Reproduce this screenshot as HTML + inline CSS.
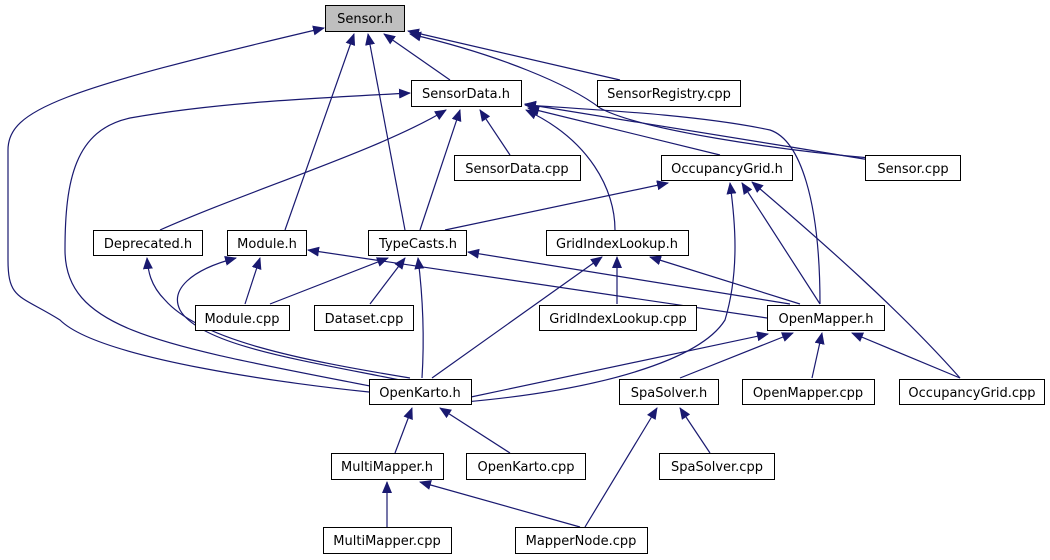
<!DOCTYPE html>
<html><head><meta charset="utf-8"><style>
html,body{margin:0;padding:0;background:#fff;}
svg{display:block;}
text{font-family:"DejaVu Sans","Liberation Sans",sans-serif;font-size:13px;fill:#000;}
.e{fill:none;stroke:#191970;stroke-width:1.2;marker-end:url(#a);}
.n{fill:#fff;stroke:#000;stroke-width:1;}
</style></head><body>
<svg width="1050" height="560" viewBox="0 0 1050 560">
<defs><marker id="a" markerWidth="12" markerHeight="10" refX="11" refY="5" orient="auto" markerUnits="userSpaceOnUse"><path d="M0,0 L12,5 L0,10 z" fill="#191970"/></marker></defs>
<g>
<path class="e" d="M369,392 C300,385 100,360 60,320 C20,295 8,300 8,260 L8,150 C8,110 60,90 324,28"/>
<path class="e" d="M285,230 L354,34"/>
<path class="e" d="M405,230 L368,34"/>
<path class="e" d="M450,80 L384,34"/>
<path class="e" d="M620,80 L408,31"/>
<path class="e" d="M870,158 C780,150 640,130 600,108 C570,85 500,55 410,34"/>
<path class="e" d="M370,386 C160,345 65,330 65,250 C65,180 75,130 130,118 C220,102 320,98 410,93"/>
<path class="e" d="M160,230 C250,190 380,150 446,110"/>
<path class="e" d="M420,230 L460,110"/>
<path class="e" d="M510,155 L480,110"/>
<path class="e" d="M615,230 C615,190 590,140 526,110"/>
<path class="e" d="M720,155 L528,108"/>
<path class="e" d="M870,160 C750,140 620,120 525,104"/>
<path class="e" d="M820,304 C820,200 800,140 770,130 C700,115 600,110 525,105"/>
<path class="e" d="M445,230 L668,183"/>
<path class="e" d="M465,402 C600,390 700,360 725,320 C740,270 735,220 730,183"/>
<path class="e" d="M820,304 L742,183"/>
<path class="e" d="M960,378 C900,310 820,240 752,182"/>
<path class="e" d="M410,378 C300,360 200,340 165,300 C150,285 148,270 147,258"/>
<path class="e" d="M400,380 C300,360 200,345 180,310 C170,290 190,270 236,258"/>
<path class="e" d="M245,304 L260,258"/>
<path class="e" d="M767,318 L308,250"/>
<path class="e" d="M270,304 L388,258"/>
<path class="e" d="M370,304 L405,258"/>
<path class="e" d="M422,378 C425,330 422,290 418,258"/>
<path class="e" d="M790,304 L468,252"/>
<path class="e" d="M432,378 L602,257"/>
<path class="e" d="M617,304 L617,257"/>
<path class="e" d="M800,304 L650,257"/>
<path class="e" d="M471,397 L768,334"/>
<path class="e" d="M680,378 L793,333"/>
<path class="e" d="M812,378 L822,333"/>
<path class="e" d="M960,378 L852,333"/>
<path class="e" d="M395,453 L412,408"/>
<path class="e" d="M510,453 L440,408"/>
<path class="e" d="M585,527 L657,408"/>
<path class="e" d="M710,453 L680,408"/>
<path class="e" d="M387,527 L387,482"/>
<path class="e" d="M580,527 L420,482"/>
</g>
<g>
<rect x="325.5" y="5.5" width="79" height="26" fill="#bfbfbf" stroke="#000"/><text x="365" y="23" text-anchor="middle">Sensor.h</text>
<rect class="n" x="411.5" y="80.5" width="110" height="26"/><text x="466" y="98" text-anchor="middle">SensorData.h</text>
<rect class="n" x="597.5" y="80.5" width="143" height="26"/><text x="669" y="98" text-anchor="middle">SensorRegistry.cpp</text>
<rect class="n" x="454.5" y="155.5" width="126" height="25"/><text x="517" y="173" text-anchor="middle">SensorData.cpp</text>
<rect class="n" x="661.5" y="155.5" width="131" height="25"/><text x="727" y="173" text-anchor="middle">OccupancyGrid.h</text>
<rect class="n" x="865.5" y="155.5" width="95" height="25"/><text x="913" y="173" text-anchor="middle">Sensor.cpp</text>
<rect class="n" x="93.5" y="230.5" width="109" height="25"/><text x="148" y="248" text-anchor="middle">Deprecated.h</text>
<rect class="n" x="227.5" y="230.5" width="79" height="25"/><text x="267" y="248" text-anchor="middle">Module.h</text>
<rect class="n" x="368.5" y="230.5" width="98" height="25"/><text x="418" y="248" text-anchor="middle">TypeCasts.h</text>
<rect class="n" x="546.5" y="230.5" width="142" height="25"/><text x="617" y="248" text-anchor="middle">GridIndexLookup.h</text>
<rect class="n" x="195.5" y="305.5" width="94" height="25"/><text x="242" y="323" text-anchor="middle">Module.cpp</text>
<rect class="n" x="314.5" y="305.5" width="99" height="25"/><text x="364" y="323" text-anchor="middle">Dataset.cpp</text>
<rect class="n" x="539.5" y="305.5" width="157" height="25"/><text x="618" y="323" text-anchor="middle">GridIndexLookup.cpp</text>
<rect class="n" x="767.5" y="305.5" width="117" height="25"/><text x="826" y="323" text-anchor="middle">OpenMapper.h</text>
<rect class="n" x="369.5" y="379.5" width="102" height="25"/><text x="420" y="397" text-anchor="middle">OpenKarto.h</text>
<rect class="n" x="619.5" y="379.5" width="99" height="25"/><text x="669" y="397" text-anchor="middle">SpaSolver.h</text>
<rect class="n" x="742.5" y="379.5" width="132" height="25"/><text x="808" y="397" text-anchor="middle">OpenMapper.cpp</text>
<rect class="n" x="899.5" y="379.5" width="145" height="25"/><text x="972" y="397" text-anchor="middle">OccupancyGrid.cpp</text>
<rect class="n" x="331.5" y="453.5" width="112" height="26"/><text x="387" y="471" text-anchor="middle">MultiMapper.h</text>
<rect class="n" x="466.5" y="453.5" width="119" height="26"/><text x="526" y="471" text-anchor="middle">OpenKarto.cpp</text>
<rect class="n" x="659.5" y="453.5" width="115" height="26"/><text x="717" y="471" text-anchor="middle">SpaSolver.cpp</text>
<rect class="n" x="323.5" y="527.5" width="128" height="26"/><text x="387" y="545" text-anchor="middle">MultiMapper.cpp</text>
<rect class="n" x="515.5" y="527.5" width="132" height="26"/><text x="581" y="545" text-anchor="middle">MapperNode.cpp</text>
</g>
</svg>
</body></html>
